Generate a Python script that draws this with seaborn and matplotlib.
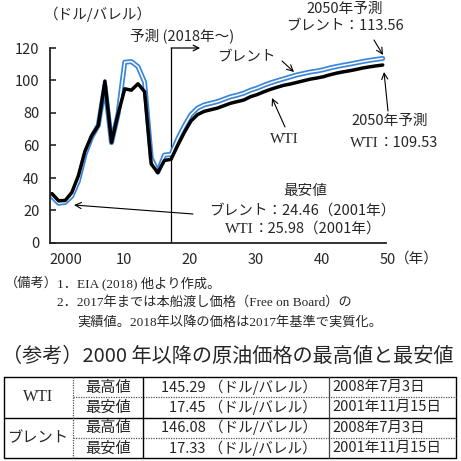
import numpy as np
import pandas as pd
import matplotlib
matplotlib.use('Agg')
import matplotlib.pyplot as plt
import matplotlib.transforms as mtransforms
import seaborn as sns

# 原油価格 (ドル/バレル), 2017年まで実績, 2018年以降予測
years = list(range(2000, 2051))
wti = [30.38, 25.98, 26.18, 31.08, 41.51, 56.64, 66.05, 72.34, 99.67, 61.95,
       79.48, 94.88, 94.05, 97.98, 93.17, 48.66, 43.29, 50.80,
       51.5, 60.0, 68.0, 75.0, 79.0, 81.0, 82.0, 83.0, 84.5, 86.0, 87.0, 88.0,
       90.0, 91.3, 93.0, 94.5, 95.8, 97.0, 97.8, 98.8, 99.8, 100.8,
       101.5, 102.3, 103.5, 104.5, 105.3, 106.0, 106.8, 107.7, 108.4, 109.0, 109.53]
brent = [28.66, 24.46, 24.99, 28.85, 38.26, 54.57, 65.16, 72.44, 96.94, 61.74,
         79.61, 111.26, 111.63, 108.56, 98.97, 52.32, 43.64, 54.13,
         54.5, 64.0, 72.0, 79.0, 83.0, 85.0, 86.0, 87.0, 88.5, 90.0, 91.0, 92.2,
         94.0, 95.3, 97.0, 98.5, 99.8, 101.0, 102.2, 103.4, 104.3, 105.2,
         105.8, 106.6, 107.7, 108.6, 109.4, 110.1, 110.9, 111.7, 112.4, 113.0, 113.56]
forecast_start = 2018
x_ticks = [2000, 2010, 2020, 2030, 2040, 2050]
x_ticklabels = ['2000', '10', '20', '30', '40', '50']
y_ticks = [0, 20, 40, 60, 80, 100, 120]

# 参考表
tbl_series = ['WTI', 'ブレント']
tbl_kind = ['最高値', '最安値', '最高値', '最安値']
tbl_value = ['145.29', '17.45', '146.08', '17.33']
tbl_date = ['2008年7月3日', '2001年11月15日', '2008年7月3日', '2001年11月15日']

df = pd.DataFrame({'year': years, 'wti': wti, 'brent': brent})

sns.set_style('white')
JP = 'Noto Sans CJK JP'
SERIF = 'Liberation Serif'
plt.rcParams['font.family'] = [JP, 'DejaVu Sans']

W = 461
fig = plt.figure(figsize=(4.61, 4.61), dpi=100)
fig.patch.set_facecolor('white')
ax = fig.add_axes([50 / W, 1 - 243 / W, 336 / W, 195 / W])

blue = '#3a86d8'
sns.lineplot(data=df, x='year', y='brent', color=blue, lw=3.6, ax=ax,
             solid_joinstyle='round')
sns.lineplot(data=df, x='year', y='brent', color='white', lw=1.1, ax=ax,
             solid_joinstyle='round')
sns.lineplot(data=df, x='year', y='wti', color='black', lw=2.5, ax=ax,
             solid_joinstyle='round')

ax.axvline(forecast_start, color='black', lw=0.9, zorder=1)
ax.annotate('', xy=(forecast_start + 4.4, 120), xytext=(forecast_start, 120),
            annotation_clip=False,
            arrowprops=dict(arrowstyle='->', lw=0.9, color='black',
                            shrinkA=0, shrinkB=0, mutation_scale=10))

ax.set_xlim(1999.7, 2050.5)
ax.set_ylim(0, 120)
ax.set_xticks(x_ticks)
ax.set_xticklabels(x_ticklabels)
ax.set_yticks(y_ticks)
ax.set_xlabel('')
ax.set_ylabel('')
for s in ['top', 'right']:
    ax.spines[s].set_visible(False)
for s in ['left', 'bottom']:
    ax.spines[s].set_linewidth(1.3)
    ax.spines[s].set_color('#222222')
ax.tick_params(axis='y', direction='in', length=4, width=1.2, pad=7.5,
               labelsize=10.5, left=True)
ax.tick_params(axis='x', length=0, pad=7, labelsize=10.5)
for i, lab in enumerate(ax.get_xticklabels()):
    dx = 14 if i == 0 else 5.5
    lab.set_transform(lab.get_transform() +
                      mtransforms.ScaledTranslation(dx / 100, 0, fig.dpi_scale_trans))

# 注記用のオーバーレイ (ピクセル座標)
ov = fig.add_axes([0, 0, 1, 1], zorder=5)
ov.set_xlim(0, W)
ov.set_ylim(W, 0)
ov.axis('off')
ov.patch.set_alpha(0)


def t(x, y, s, size=10.5, ha='center', family=None, **kw):
    ov.text(x, y, s, fontsize=size, ha=ha, va='center',
            family=family if family else [JP, 'DejaVu Sans'], **kw)


def arrow(tail, tip):
    ov.annotate('', xy=tip, xytext=tail,
                arrowprops=dict(arrowstyle='->', lw=0.8, color='black',
                                shrinkA=0, shrinkB=0, mutation_scale=11))


t(98, 14, '（ドル/バレル）')
t(130, 36, '予測 (2018年～)', ha='left')
t(395, 259, '（年）', ha='left')

t(246, 58, 'ブレント')
arrow((282, 61), (294, 72))

t(345, 9, '2050年予測')
t(345, 27, 'ブレント：113.56')
arrow((374, 40), (383, 55))

t(284, 139, 'WTI', family=SERIF, size=11)
arrow((285, 127), (272, 98))

t(390, 121, '2050年予測')
t(379, 143, 'WTI', ha='right', family=SERIF, size=11)
t(379, 143, '：109.53', ha='left')
arrow((388, 111), (384, 72))

t(305, 191, '最安値')
t(302, 211, 'ブレント：24.46（2001年）')
t(254, 229, 'WTI', ha='right', family=SERIF, size=11)
t(254, 229, '：25.98（2001年）', ha='left')
arrow((193, 214), (74, 205))

# 備考
note_fam = [SERIF, JP]
t(5, 283, '（備考）', size=9.5, ha='left', family=note_fam)
t(57, 283, '1．EIA (2018) 他より作成。', size=9.5, ha='left', family=note_fam)
t(57, 302, '2．2017年までは本船渡し価格（Free on Board）の', size=9.5, ha='left',
  family=note_fam)
t(77, 322, '実績値。2018年以降の価格は2017年基準で実質化。', size=9.5, ha='left',
  family=note_fam)

# 参考表
t(2, 356, '（参考）2000 年以降の原油価格の最高値と最安値', size=14.5, ha='left')

top, bot, left, right = 377, 458, 4, 456
rows = np.linspace(top, bot, 5)
ov.plot([left, right, right, left, left], [top, top, bot, bot, top],
        color='black', lw=1.0)
ov.plot([left, right], [rows[2], rows[2]], color='black', lw=1.0)
for r in [rows[1], rows[3]]:
    ov.plot([73, right], [r, r], color='#555555', lw=0.9, ls=(0, (1, 1)))
ov.plot([73, 73], [top, bot], color='#555555', lw=0.9, ls=(0, (1, 1)))
ov.plot([143, 143], [top, bot], color='black', lw=1.0)
ov.plot([329, 329], [top, bot], color='#444444', lw=0.9)

for i, name in enumerate(tbl_series):
    yc = (rows[2 * i] + rows[2 * i + 2]) / 2
    if name == 'WTI':
        t(38, yc, name, size=11.5, family=SERIF)
    else:
        t(38, yc, name, size=11)
for i in range(4):
    yc = (rows[i] + rows[i + 1]) / 2
    t(108, yc, tbl_kind[i], size=11)
    t(317, yc, tbl_value[i] + ' （ドル/バレル）', size=10.5, ha='right')
    t(332, yc, tbl_date[i], size=10.5, ha='left')

fig.savefig('out.png', dpi=100, facecolor='white')
